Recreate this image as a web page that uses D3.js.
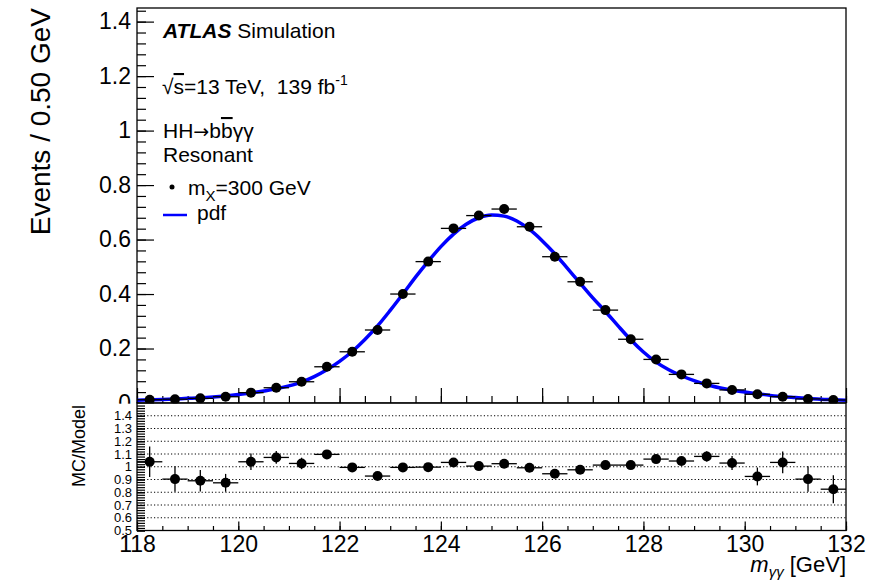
<!DOCTYPE html>
<html>
<head>
<meta charset="utf-8">
<script src="https://cdn.jsdelivr.net/npm/d3@7"></script>
<style>
  body { margin: 0; background: #fff; }
  text { font-family: "Liberation Sans", Arial, Helvetica, sans-serif; fill: #000; }
</style>
</head>
<body>
<div class="chart"></div>
<script>
// Data
var binCenters = [118.25, 118.75, 119.25, 119.75, 120.25, 120.75, 121.25, 121.75, 122.25, 122.75,
  123.25, 123.75, 124.25, 124.75, 125.25, 125.75, 126.25, 126.75, 127.25, 127.75,
  128.25, 128.75, 129.25, 129.75, 130.25, 130.75, 131.25, 131.75];
var mcValues = [0.012, 0.014, 0.017, 0.023, 0.038, 0.056, 0.078, 0.133, 0.188, 0.268,
  0.400, 0.519, 0.641, 0.688, 0.712, 0.647, 0.537, 0.445, 0.341, 0.234,
  0.160, 0.105, 0.072, 0.048, 0.032, 0.023, 0.015, 0.011];
var ratioValues = [1.039, 0.903, 0.890, 0.874, 1.039, 1.073, 1.026, 1.097, 0.995, 0.927,
  0.995, 0.997, 1.034, 1.005, 1.024, 0.992, 0.945, 0.976, 1.013, 1.013,
  1.060, 1.045, 1.081, 1.029, 0.924, 1.034, 0.903, 0.824];
var ratioErrors = [0.12, 0.10, 0.085, 0.07, 0.065, 0.05, 0.045, 0.035, 0.02, 0.02,
  0.015, 0.015, 0.015, 0.015, 0.015, 0.015, 0.015, 0.015, 0.02, 0.02,
  0.025, 0.03, 0.04, 0.055, 0.07, 0.085, 0.10, 0.11];
var pdfMass = [118.00, 118.25, 118.50, 118.75, 119.00, 119.25, 119.50, 119.75, 120.00, 120.25,
  120.50, 120.75, 121.00, 121.25, 121.50, 121.75, 122.00, 122.25, 122.50, 122.75,
  123.00, 123.25, 123.50, 123.75, 124.00, 124.25, 124.50, 124.75, 125.00, 125.25,
  125.50, 125.75, 126.00, 126.25, 126.50, 126.75, 127.00, 127.25, 127.50, 127.75,
  128.00, 128.25, 128.50, 128.75, 129.00, 129.25, 129.50, 129.75, 130.00, 130.25,
  130.50, 130.75, 131.00, 131.25, 131.50, 131.75, 132.00];
var pdfValues = [0.010, 0.0115, 0.013, 0.015, 0.017, 0.019, 0.022, 0.026, 0.031, 0.037,
  0.044, 0.052, 0.063, 0.077, 0.097, 0.122, 0.153, 0.189, 0.233, 0.283,
  0.340, 0.400, 0.462, 0.520, 0.574, 0.620, 0.656, 0.680, 0.690, 0.686,
  0.668, 0.637, 0.596, 0.548, 0.494, 0.440, 0.386, 0.336, 0.283, 0.232,
  0.187, 0.150, 0.122, 0.100, 0.082, 0.067, 0.056, 0.047, 0.040, 0.034,
  0.028, 0.023, 0.020, 0.017, 0.014, 0.012, 0.010];
var binHalfWidth = 0.25;

var xTicks = [118, 120, 122, 124, 126, 128, 130, 132];
var yTicksTop = [0, 0.2, 0.4, 0.6, 0.8, 1, 1.2, 1.4];
var yTickLabelsTop = ["0", "0.2", "0.4", "0.6", "0.8", "1", "1.2", "1.4"];
var yTicksRatio = [0.5, 0.6, 0.7, 0.8, 0.9, 1, 1.1, 1.2, 1.3, 1.4];
var yTickLabelsRatio = ["0.5", "0.6", "0.7", "0.8", "0.9", "1", "1.1", "1.2", "1.3", "1.4"];
var ratioGrid = [0.6, 0.7, 0.8, 0.9, 1, 1.1, 1.2, 1.3, 1.4];

var svgWidth = 882;
var svgHeight = 581;
var left = 137, right = 846;
var topY = 8, midY = 403, botY = 530.5;

var svg = d3.select(".chart")
  .append("svg")
  .attr("width", svgWidth)
  .attr("height", svgHeight);

// Scales
var x = d3.scaleLinear().domain([118, 132]).range([left, right]);
var yTop = d3.scaleLinear().domain([0, 1.45]).range([midY, topY]);
var yRatio = d3.scaleLinear().domain([0.5, 1.5]).range([botY, midY]);

var font = '"Liberation Sans", Arial, Helvetica, sans-serif';

function styleAxis(g, size) {
  g.attr("font-family", font).attr("font-size", size);
  g.select(".domain").remove();
  g.selectAll("line").attr("stroke", "#000").attr("stroke-width", 1.2);
  g.selectAll("text").attr("fill", "#000");
}

// Upper panel: y axis (ticks point inward)
svg.append("g")
  .attr("transform", `translate(${left},0)`)
  .call(d3.axisLeft(yTop).tickValues(d3.range(0, 1.45, 0.04)).tickSize(-9).tickFormat(""))
  .call(styleAxis, 23);
svg.append("g")
  .attr("transform", `translate(${left},0)`)
  .call(d3.axisLeft(yTop).tickValues(yTicksTop).tickSize(-17).tickPadding(6)
    .tickFormat(function(d, i) { return yTickLabelsTop[i]; }))
  .call(styleAxis, 23);

// Upper panel: x ticks at the bottom pointing up, no labels
svg.append("g")
  .attr("transform", `translate(0,${midY})`)
  .call(d3.axisBottom(x).tickValues(d3.range(118, 132.01, 0.5)).tickSize(-7).tickFormat(""))
  .call(styleAxis, 23);
svg.append("g")
  .attr("transform", `translate(0,${midY})`)
  .call(d3.axisBottom(x).tickValues(xTicks).tickSize(-15).tickFormat(""))
  .call(styleAxis, 23);

// pdf curve
svg.append("clipPath").attr("id", "topClip")
  .append("rect").attr("x", left).attr("y", topY).attr("width", right - left).attr("height", midY - topY);

var pdfLine = d3.line()
  .x(function(d, i) { return x(pdfMass[i]); })
  .y(function(d) { return yTop(d); })
  .curve(d3.curveMonotoneX);

svg.append("path")
  .datum(pdfValues)
  .attr("clip-path", "url(#topClip)")
  .attr("d", pdfLine)
  .attr("fill", "none")
  .attr("stroke", "#0000ff")
  .attr("stroke-width", 3.5);

// MC points
var topPts = svg.append("g");
topPts.selectAll("line.h")
  .data(mcValues)
  .enter()
  .append("line")
  .attr("x1", function(d, i) { return x(binCenters[i] - binHalfWidth); })
  .attr("x2", function(d, i) { return x(binCenters[i] + binHalfWidth); })
  .attr("y1", function(d) { return yTop(d); })
  .attr("y2", function(d) { return yTop(d); })
  .attr("stroke", "#000")
  .attr("stroke-width", 1.3);
topPts.selectAll("circle")
  .data(mcValues)
  .enter()
  .append("circle")
  .attr("cx", function(d, i) { return x(binCenters[i]); })
  .attr("cy", function(d) { return yTop(d); })
  .attr("r", 5)
  .attr("fill", "#000");

svg.append("rect")
  .attr("x", left).attr("y", topY).attr("width", right - left).attr("height", midY - topY)
  .attr("fill", "none").attr("stroke", "#000").attr("stroke-width", 1.3);

// Lower pad covers whatever of the upper pad spills below
svg.append("rect")
  .attr("x", 0).attr("y", midY + 0.7).attr("width", svgWidth).attr("height", svgHeight - midY)
  .attr("fill", "#fff");

// Lower panel: grid
svg.append("g").selectAll("line")
  .data(ratioGrid)
  .enter()
  .append("line")
  .attr("x1", left)
  .attr("x2", right)
  .attr("y1", function(d) { return yRatio(d); })
  .attr("y2", function(d) { return yRatio(d); })
  .attr("stroke", "#000")
  .attr("stroke-width", 1.2)
  .attr("stroke-dasharray", "1.2,2.2");

// Lower panel axes
svg.append("g")
  .attr("transform", `translate(${left},0)`)
  .call(d3.axisLeft(yRatio).tickValues(d3.range(0.5, 1.5, 0.02)).tickSize(-8).tickFormat(""))
  .call(styleAxis, 13);
svg.append("g")
  .attr("transform", `translate(${left},0)`)
  .call(d3.axisLeft(yRatio).tickValues(yTicksRatio).tickSize(-8).tickPadding(5)
    .tickFormat(function(d, i) { return yTickLabelsRatio[i]; }))
  .call(styleAxis, 13);

svg.append("g")
  .attr("transform", `translate(0,${botY})`)
  .call(d3.axisBottom(x).tickValues(d3.range(118, 132.01, 0.5)).tickSize(-4.5).tickFormat(""))
  .call(styleAxis, 23);
svg.append("g")
  .attr("transform", `translate(0,${botY})`)
  .call(d3.axisBottom(x).tickValues(xTicks).tickSize(-9).tickPadding(13).tickFormat(d3.format("d")))
  .call(styleAxis, 23)
  .call(function(g) { g.selectAll("text").attr("dy", "0.35em"); });

// Ratio points
var ratioPts = svg.append("g");
ratioPts.selectAll("line.h")
  .data(ratioValues)
  .enter()
  .append("line")
  .attr("x1", function(d, i) { return x(binCenters[i] - binHalfWidth); })
  .attr("x2", function(d, i) { return x(binCenters[i] + binHalfWidth); })
  .attr("y1", function(d) { return yRatio(d); })
  .attr("y2", function(d) { return yRatio(d); })
  .attr("stroke", "#000")
  .attr("stroke-width", 1.3);
ratioPts.selectAll("line.v")
  .data(ratioValues)
  .enter()
  .append("line")
  .attr("x1", function(d, i) { return x(binCenters[i]); })
  .attr("x2", function(d, i) { return x(binCenters[i]); })
  .attr("y1", function(d, i) { return yRatio(d - ratioErrors[i]); })
  .attr("y2", function(d, i) { return yRatio(d + ratioErrors[i]); })
  .attr("stroke", "#000")
  .attr("stroke-width", 1.3);
ratioPts.selectAll("circle")
  .data(ratioValues)
  .enter()
  .append("circle")
  .attr("cx", function(d, i) { return x(binCenters[i]); })
  .attr("cy", function(d) { return yRatio(d); })
  .attr("r", 5)
  .attr("fill", "#000");

// Lower frame
svg.append("rect")
  .attr("x", left).attr("y", midY).attr("width", right - left).attr("height", botY - midY)
  .attr("fill", "none").attr("stroke", "#000").attr("stroke-width", 1.3);

// Axis titles
svg.append("text")
  .attr("transform", "translate(50,8) rotate(-90)")
  .attr("text-anchor", "end")
  .attr("font-size", 28)
  .text("Events / 0.50 GeV");

svg.append("text")
  .attr("transform", "translate(85,405) rotate(-90)")
  .attr("text-anchor", "end")
  .attr("font-size", 18)
  .text("MC/Model");

var xTitle = svg.append("text")
  .attr("x", right)
  .attr("y", 572)
  .attr("text-anchor", "end")
  .attr("font-size", 22);
xTitle.append("tspan").attr("font-style", "italic").text("m");
xTitle.append("tspan").attr("font-style", "italic").attr("font-size", 15).attr("dy", 5).text("γγ");
xTitle.append("tspan").attr("dy", -5).text(" [GeV]");

// Legend / labels
var lg = svg.append("g").attr("font-size", 21);

var atlas = lg.append("text").attr("x", 163).attr("y", 38);
atlas.append("tspan").attr("font-weight", "bold").attr("font-style", "italic").text("ATLAS");
atlas.append("tspan").text(" Simulation");

var lumi = lg.append("text").attr("x", 162).attr("y", 94).style("white-space", "pre");
lumi.append("tspan").text("√");
lumi.append("tspan").style("text-decoration", "overline").text("s");
lumi.append("tspan").text("=13 TeV,  139 fb");
lumi.append("tspan").attr("font-size", 14).attr("dy", -9).text("-1");

var proc = lg.append("text").attr("x", 163).attr("y", 138);
proc.append("tspan").text("HH");
proc.append("tspan").attr("font-family", "DejaVu Sans").attr("font-size", 19).text("→");
proc.append("tspan").text("b");
proc.append("tspan").style("text-decoration", "overline").text("b");
proc.append("tspan").text("γγ");

lg.append("text").attr("x", 163).attr("y", 162).text("Resonant");

lg.append("circle").attr("cx", 172).attr("cy", 187).attr("r", 2.5).attr("fill", "#000");
var mx = lg.append("text").attr("x", 188).attr("y", 195);
mx.append("tspan").text("m");
mx.append("tspan").attr("font-size", 15).attr("dy", 6).text("X");
mx.append("tspan").attr("dy", -6).text("=300 GeV");

lg.append("line")
  .attr("x1", 163).attr("x2", 187).attr("y1", 215).attr("y2", 215)
  .attr("stroke", "#0000ff").attr("stroke-width", 2.5);
lg.append("text").attr("x", 197).attr("y", 220).text("pdf");
</script>
</body>
</html>
